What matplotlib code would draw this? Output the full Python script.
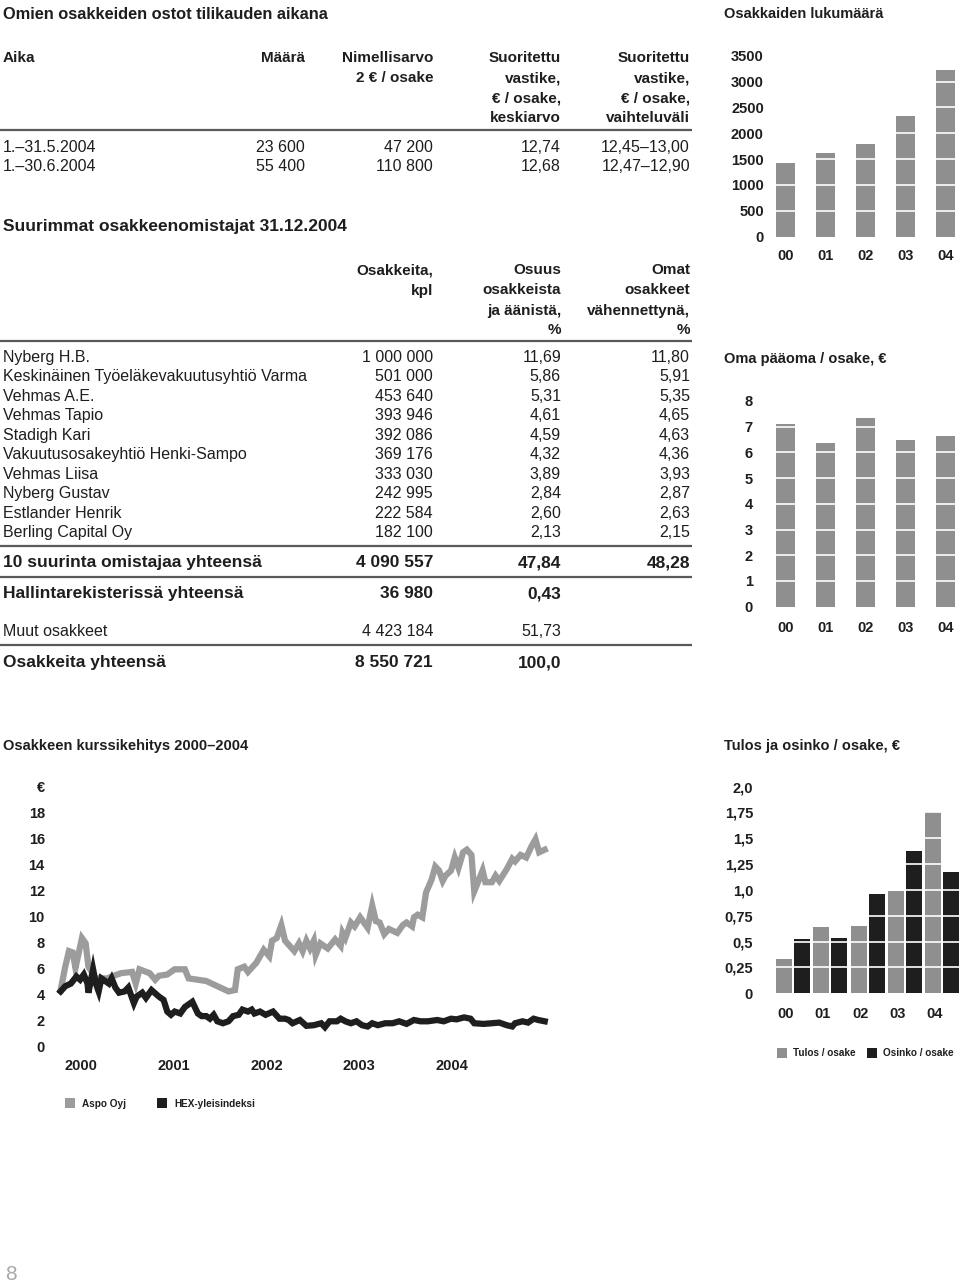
import matplotlib
matplotlib.use('Agg')
import matplotlib.pyplot as plt
from matplotlib.patches import Rectangle
from matplotlib import font_manager as fm

# ------------------------------------------------------------------ data
purchase_periods = ['1.–31.5.2004', '1.–30.6.2004']
purchase_counts = ['23 600', '55 400']
purchase_nominal = ['47 200', '110 800']
purchase_avg = ['12,74', '12,68']
purchase_range = ['12,45–13,00', '12,47–12,90']

owner_names = ['Nyberg H.B.', 'Keskinäinen Työeläkevakuutusyhtiö Varma', 'Vehmas A.E.',
               'Vehmas Tapio', 'Stadigh Kari', 'Vakuutusosakeyhtiö Henki-Sampo',
               'Vehmas Liisa', 'Nyberg Gustav', 'Estlander Henrik', 'Berling Capital Oy']
owner_shares = ['1 000 000', '501 000', '453 640', '393 946', '392 086', '369 176',
                '333 030', '242 995', '222 584', '182 100']
owner_pct = ['11,69', '5,86', '5,31', '4,61', '4,59', '4,32', '3,89', '2,84', '2,60', '2,13']
owner_pct_excl = ['11,80', '5,91', '5,35', '4,65', '4,63', '4,36', '3,93', '2,87', '2,63', '2,15']

summary_labels = ['10 suurinta omistajaa yhteensä', 'Hallintarekisterissä yhteensä',
                  'Muut osakkeet', 'Osakkeita yhteensä']
summary_shares = ['4 090 557', '36 980', '4 423 184', '8 550 721']
summary_pct = ['47,84', '0,43', '51,73', '100,0']
summary_pct_excl = ['48,28', '', '', '']
summary_bold = [True, True, False, True]

bar_years = ['00', '01', '02', '03', '04']
shareholders = [1420, 1620, 1790, 2340, 3220]
equity_per_share = [7.11, 6.36, 7.34, 6.49, 6.63]
eps = [0.33, 0.64, 0.65, 0.99, 1.75]
dps = [0.53, 0.54, 0.96, 1.38, 1.17]

price_years = ['2000', '2001', '2002', '2003', '2004']
aspo_t = [1999.78, 1999.83, 1999.87, 1999.91, 1999.94,
          2000.01, 2000.05, 2000.08, 2000.16, 2000.28, 2000.43, 2000.55, 2000.59, 2000.63,
          2000.74, 2000.80, 2000.84, 2000.93,
          2001.01, 2001.12, 2001.16, 2001.35, 2001.47, 2001.59, 2001.66, 2001.69, 2001.76,
          2001.80, 2001.89, 2001.97,
          2002.03, 2002.06, 2002.11, 2002.16, 2002.20, 2002.30, 2002.35, 2002.39, 2002.43,
          2002.47, 2002.51, 2002.53, 2002.58, 2002.66, 2002.74, 2002.80, 2002.82, 2002.85,
          2002.91, 2002.95,
          2003.01, 2003.09, 2003.14, 2003.18, 2003.22, 2003.27, 2003.32, 2003.41, 2003.47,
          2003.51, 2003.57, 2003.59, 2003.63, 2003.68, 2003.72, 2003.78, 2003.82, 2003.86,
          2003.90, 2003.93, 2003.99,
          2004.03, 2004.07, 2004.12, 2004.16, 2004.21, 2004.24, 2004.28, 2004.33, 2004.36,
          2004.43, 2004.47, 2004.51, 2004.59, 2004.65, 2004.68, 2004.74, 2004.80, 2004.86,
          2004.90, 2004.94, 2005.00]
aspo_v = [4.3, 6.1, 7.3, 7.2, 6.0,
          8.3, 7.9, 6.1, 5.2, 5.2, 5.6, 5.7, 4.8, 5.9, 5.6, 5.1, 5.4, 5.5,
          5.9, 5.9, 5.2, 5.0, 4.6, 4.2, 4.3, 5.9, 6.1, 5.7, 6.4, 7.4,
          6.9, 8.1, 8.3, 9.3, 8.1, 7.3, 7.9, 7.3, 8.1, 7.5, 8.1, 7.0, 7.9, 7.5, 8.2, 7.7,
          8.7, 8.3, 9.5, 9.2,
          9.9, 9.1, 10.8, 9.6, 9.5, 8.6, 9.0, 8.7, 9.3, 9.5, 9.2, 9.9, 10.1, 9.9, 11.8,
          12.8, 13.8, 13.5, 12.7, 13.1, 13.5,
          14.5, 13.7, 14.9, 15.1, 14.7, 11.9, 12.6, 13.5, 12.6, 12.6, 13.1, 12.7, 13.6,
          14.4, 14.2, 14.7, 14.5, 15.4, 15.9, 14.9, 15.1]
hex_t = [1999.78, 1999.83, 1999.89, 1999.95, 1999.99,
         2000.03, 2000.07, 2000.08, 2000.13, 2000.16, 2000.19, 2000.22, 2000.26, 2000.30,
         2000.33, 2000.37, 2000.41, 2000.47, 2000.51, 2000.57, 2000.60, 2000.66, 2000.70,
         2000.76, 2000.84, 2000.89, 2000.93, 2000.97,
         2001.01, 2001.07, 2001.12, 2001.20, 2001.26, 2001.30, 2001.35, 2001.39, 2001.43,
         2001.47, 2001.53, 2001.59, 2001.64, 2001.70, 2001.74, 2001.80, 2001.84, 2001.87,
         2001.93, 2001.99,
         2002.07, 2002.14, 2002.20, 2002.24, 2002.28, 2002.36, 2002.43, 2002.51, 2002.59,
         2002.63, 2002.68, 2002.76, 2002.80, 2002.85, 2002.91, 2002.97,
         2003.03, 2003.09, 2003.14, 2003.20, 2003.28, 2003.36, 2003.43, 2003.51, 2003.59,
         2003.66, 2003.74, 2003.84, 2003.91, 2003.99,
         2004.05, 2004.13, 2004.20, 2004.24, 2004.34, 2004.43, 2004.51, 2004.59, 2004.65,
         2004.68, 2004.76, 2004.82, 2004.88, 2004.93, 2005.00]
hex_v = [4.2, 4.6, 4.8, 5.35, 5.1,
         5.5, 4.8, 4.1, 5.9, 4.8, 4.2, 5.2, 5.0, 4.8, 5.2, 4.5, 4.1, 4.2, 4.5, 3.3, 3.8,
         4.1, 3.7, 4.3, 3.8, 3.55, 2.65, 2.4,
         2.65, 2.5, 3.0, 3.4, 2.5, 2.3, 2.3, 2.1, 2.4, 1.9, 1.75, 1.9, 2.3, 2.4, 2.8, 2.65,
         2.8, 2.5, 2.65, 2.4,
         2.65, 2.1, 2.1, 2.0, 1.75, 2.0, 1.55, 1.6, 1.75, 1.45, 1.9, 1.9, 2.1, 1.9, 1.75, 1.9,
         1.6, 1.5, 1.75, 1.6, 1.75, 1.75, 1.9, 1.7, 2.0, 1.9, 1.9, 2.0, 1.9, 2.1,
         2.05, 2.2, 2.1, 1.75, 1.7, 1.75, 1.8, 1.6, 1.5, 1.75, 1.9, 1.8, 2.1, 2.0,
         1.9]

# ------------------------------------------------------------------ style
avail = {f.name for f in fm.fontManager.ttflist}
TXT = 'Liberation Sans' if 'Liberation Sans' in avail else 'DejaVu Sans'
NARROW = 'Liberation Sans Narrow' if 'Liberation Sans Narrow' in avail else TXT
plt.rcParams['font.family'] = [TXT, 'DejaVu Sans']
INK = '#1f1d1e'
GRAY_BAR = '#8f8f8f'
GRAY_LINE = '#9c9c9c'
DARK = '#1e1e1e'
RULE = '#5a5a5a'
TICK_SIZE = 10.5

W, H = 960, 1286
fig = plt.figure(figsize=(W / 100, H / 100), dpi=100)
fig.patch.set_facecolor('white')

bg = fig.add_axes([0, 0, 1, 1])
bg.set_xlim(0, W)
bg.set_ylim(H, 0)
bg.axis('off')


def add_ax(l, t, r, b):
    ax = fig.add_axes([l / W, 1 - b / H, (r - l) / W, (b - t) / H])
    ax.set_facecolor('none')
    for sp in ax.spines.values():
        sp.set_visible(False)
    return ax


def T(x, y, s, ha='left', bold=False, size=11.5, color=INK, family=None):
    # y is the vertical middle of the capitals; place by baseline
    bg.text(x, y + 0.5 * size, s, ha=ha, va='baseline', fontsize=size,
            fontweight='bold' if bold else 'normal', color=color,
            family=[family or TXT, 'DejaVu Sans'])


def rule(y, lw=1.6):
    bg.plot([0, 692], [y, y], color=RULE, lw=lw, solid_capstyle='butt')


# ------------------------------------------------------------------ table 1
T(3, 13, 'Omien osakkeiden ostot tilikauden aikana', bold=True, size=11.8)
C1, C2, C3, C4 = 305, 433, 561, 690
hy = [57, 77, 97, 116]
T(3, hy[0], 'Aika', bold=True, size=11)
T(C1, hy[0], 'Määrä', ha='right', bold=True, size=11)
for y, s in zip(hy, ['Nimellisarvo', '2 € / osake']):
    T(C2, y, s, ha='right', bold=True, size=11)
for y, s in zip(hy, ['Suoritettu', 'vastike,', '€ / osake,', 'keskiarvo']):
    T(C3, y, s, ha='right', bold=True, size=11)
for y, s in zip(hy, ['Suoritettu', 'vastike,', '€ / osake,', 'vaihteluväli']):
    T(C4, y, s, ha='right', bold=True, size=11)
rule(130)
for i in range(len(purchase_periods)):
    y = 146 + 19.5 * i
    T(3, y, purchase_periods[i])
    T(C1, y, purchase_counts[i], ha='right')
    T(C2, y, purchase_nominal[i], ha='right')
    T(C3, y, purchase_avg[i], ha='right')
    T(C4, y, purchase_range[i], ha='right')

# ------------------------------------------------------------------ table 2
T(3, 225, 'Suurimmat osakkeenomistajat 31.12.2004', bold=True, size=12.5)
hy2 = [269, 289, 309, 328]
for y, s in zip(hy2, ['Osakkeita,', 'kpl']):
    T(C2, y, s, ha='right', bold=True, size=11)
for y, s in zip(hy2, ['Osuus', 'osakkeista', 'ja äänistä,', '%']):
    T(C3, y, s, ha='right', bold=True, size=11)
for y, s in zip(hy2, ['Omat', 'osakkeet', 'vähennettynä,', '%']):
    T(C4, y, s, ha='right', bold=True, size=11)
rule(341)
for i in range(len(owner_names)):
    y = 356 + 19.5 * i
    T(3, y, owner_names[i])
    T(C2, y, owner_shares[i], ha='right')
    T(C3, y, owner_pct[i], ha='right')
    T(C4, y, owner_pct_excl[i], ha='right')
rule(546)
sum_y = [561, 592, 630, 661]
for i in range(len(summary_labels)):
    b = summary_bold[i]
    sz = 12.5 if b else 11.5
    T(3, sum_y[i], summary_labels[i], bold=b, size=sz)
    T(C2, sum_y[i], summary_shares[i], ha='right', bold=b, size=sz)
    T(C3, sum_y[i], summary_pct[i], ha='right', bold=b, size=sz)
    if summary_pct_excl[i]:
        T(C4, sum_y[i], summary_pct_excl[i], ha='right', bold=b, size=sz)
rule(577)
rule(645)


def style_bar_axis(ax, yticks, ylabels, ypad, xpad):
    ax.set_yticks(yticks)
    ax.set_yticklabels(ylabels)
    ax.tick_params(axis='y', length=0, pad=ypad, labelsize=TICK_SIZE, labelcolor=INK)
    ax.tick_params(axis='x', length=0, pad=xpad, labelsize=TICK_SIZE, labelcolor=INK)
    for lab in ax.get_xticklabels() + ax.get_yticklabels():
        lab.set_fontweight('bold')
    for v in yticks[1:]:
        ax.axhline(v, color='white', lw=1.2, zorder=3)


# ------------------------------------------------------------------ chart 1: shareholders
T(724, 13, 'Osakkaiden lukumäärä', bold=True, size=10.5)
ax1 = add_ax(773.5, 53.1, 957.5, 236.7)
xs = list(range(len(bar_years)))
ax1.bar(xs, shareholders, width=0.475, color=GRAY_BAR, zorder=2)
ax1.set_xlim(-0.3, 4.3)
ax1.set_ylim(0, 3550)
ax1.set_xticks(xs)
ax1.set_xticklabels(bar_years)
style_bar_axis(ax1, list(range(0, 3501, 500)), [str(v) for v in range(0, 3501, 500)], 7, 9)

# ------------------------------------------------------------------ chart 2: equity per share
T(724, 358, 'Oma pääoma / osake, €', bold=True, size=10.5)
ax2 = add_ax(773.5, 398.4, 957.5, 606.7)
ax2.bar(xs, equity_per_share, width=0.475, color=GRAY_BAR, zorder=2)
ax2.set_xlim(-0.3, 4.3)
ax2.set_ylim(0, 8.1)
ax2.set_xticks(xs)
ax2.set_xticklabels(bar_years)
style_bar_axis(ax2, list(range(0, 9)), [str(v) for v in range(0, 9)], 15, 10)

# ------------------------------------------------------------------ chart 4: EPS / DPS
T(724, 745, 'Tulos ja osinko / osake, €', bold=True, size=10.5)
ax4 = add_ax(772.5, 784.6, 959.0, 993.3)
ax4.bar([x - 0.241 for x in xs], eps, width=0.429, color=GRAY_BAR, zorder=2)
ax4.bar([x + 0.241 for x in xs], dps, width=0.429, color=DARK, zorder=2)
ax4.set_xlim(-0.55, 4.45)
ax4.set_ylim(0, 2.02)
ax4.set_xticks([x - 0.2 for x in xs])
ax4.set_xticklabels(bar_years)
eps_ticks = [0, 0.25, 0.5, 0.75, 1.0, 1.25, 1.5, 1.75, 2.0]
eps_labels = ['0', '0,25', '0,5', '0,75', '1,0', '1,25', '1,5', '1,75', '2,0']
style_bar_axis(ax4, eps_ticks, eps_labels, 14, 10)

LEG_SIZE = 8.5 if NARROW != TXT else 7.2
bg.add_patch(Rectangle((777, 1048), 10, 9.5, color=GRAY_BAR, lw=0))
T(793, 1052.5, 'Tulos / osake', bold=True, size=LEG_SIZE, family=NARROW)
bg.add_patch(Rectangle((867, 1048), 10, 9.5, color=DARK, lw=0))
T(883, 1052.5, 'Osinko / osake', bold=True, size=LEG_SIZE, family=NARROW)

# ------------------------------------------------------------------ chart 3: share price
T(3, 745, 'Osakkeen kurssikehitys 2000–2004', bold=True, size=10.5)
ax3 = add_ax(53.2, 779.5, 554.0, 1052.5)
ax3.plot(aspo_t, aspo_v, color=GRAY_LINE, lw=4.5, solid_joinstyle='miter', zorder=2)
ax3.plot(hex_t, hex_v, color=DARK, lw=4.5, solid_joinstyle='miter', zorder=3)
ax3.set_xlim(1999.7, 2005.1)
ax3.set_ylim(-0.5, 20.5)
ax3.set_xticks([2000, 2001, 2002, 2003, 2004])
ax3.set_xticklabels(price_years)
ax3.set_yticks(list(range(0, 21, 2)))
ax3.set_yticklabels([str(v) for v in range(0, 19, 2)] + ['€'])
ax3.tick_params(axis='y', length=0, pad=6, labelsize=TICK_SIZE, labelcolor=INK)
ax3.tick_params(axis='x', length=0, pad=5, labelsize=TICK_SIZE, labelcolor=INK)
for lab in ax3.get_xticklabels() + ax3.get_yticklabels():
    lab.set_fontweight('bold')

bg.add_patch(Rectangle((65, 1098), 10, 10, color=GRAY_LINE, lw=0))
T(82, 1103, 'Aspo Oyj', bold=True, size=LEG_SIZE, family=NARROW)
bg.add_patch(Rectangle((157, 1098), 10, 10, color=DARK, lw=0))
T(174, 1103, 'HEX-yleisindeksi', bold=True, size=LEG_SIZE, family=NARROW)

# page number
bg.text(5, 1275, '8', ha='left', va='center', fontsize=15, color='#a8a8a8',
        fontweight='light')

fig.savefig('out.png', dpi=100, facecolor='white')
